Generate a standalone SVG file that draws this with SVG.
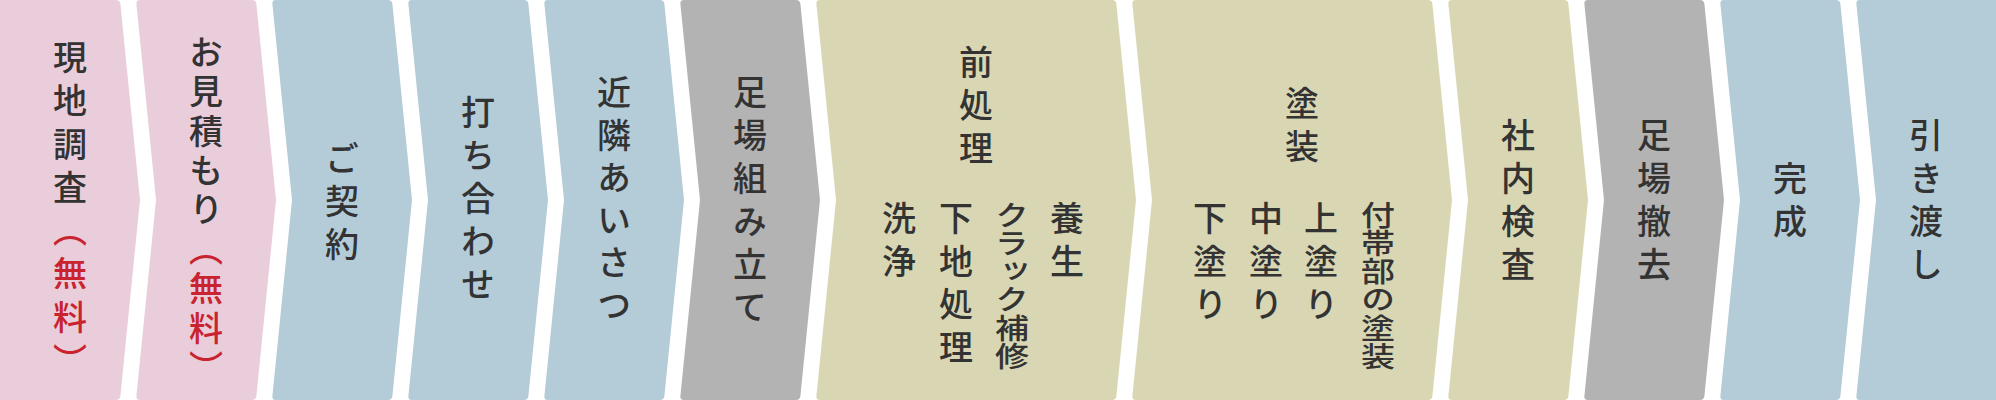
<svg xmlns="http://www.w3.org/2000/svg" width="1996" height="400" viewBox="0 0 1996 400">
<style>
.pink{fill:#eacddb}
.blue{fill:#b4ccd8}
.gray{fill:#b3b3b3}
.olive{fill:#d9d7b3}
.t{font-family:"Noto Sans CJK JP","Noto Sans CJK SC",sans-serif;font-size:34px;font-weight:500;fill:#333333;writing-mode:vertical-rl;letter-spacing:9px}
.r{fill:#c8232f}
.sq{letter-spacing:0px}
</style>
<rect width="1996" height="400" fill="#ffffff"/>
<g id="step1">
<path class="pink" d="M0,0 H116 Q120,0 120.4,4 L140,200 L120.4,396 Q120,400 116,400 H0 Z"/>
<text class="t" x="70" y="40" style="letter-spacing:9.3px">現地調査<tspan class="r">（無料）</tspan></text>
</g>
<g id="step2">
<path class="pink" d="M136.4,4 Q136,0 140,0 H252 Q256,0 256.4,4 L276,200 L256.4,396 Q256,400 252,400 H140 Q136,400 136.4,396 L156,200 Z"/>
<text class="t" x="206" y="35" style="letter-spacing:5.3px">お見積もり<tspan class="r">（無料）</tspan></text>
</g>
<g id="step3">
<path class="blue" d="M272.4,4 Q272,0 276,0 H388 Q392,0 392.4,4 L412,200 L392.4,396 Q392,400 388,400 H276 Q272,400 272.4,396 L292,200 Z"/>
<text class="t" x="342" y="141">ご契約</text>
</g>
<g id="step4">
<path class="blue" d="M408.4,4 Q408,0 412,0 H524 Q528,0 528.4,4 L548,200 L528.4,396 Q528,400 524,400 H412 Q408,400 408.4,396 L428,200 Z"/>
<text class="t" x="478" y="95">打ち合わせ</text>
</g>
<g id="step5">
<path class="blue" d="M544.4,4 Q544,0 548,0 H660 Q664,0 664.4,4 L684,200 L664.4,396 Q664,400 660,400 H548 Q544,400 544.4,396 L564,200 Z"/>
<text class="t" x="614" y="75" style="letter-spacing:8.6px">近隣あいさつ</text>
</g>
<g id="step6">
<path class="gray" d="M680.4,4 Q680,0 684,0 H796 Q800,0 800.4,4 L820,200 L800.4,396 Q800,400 796,400 H684 Q680,400 680.4,396 L700,200 Z"/>
<text class="t" x="750" y="75">足場組み立て</text>
</g>
<g id="step7">
<path class="olive" d="M816.4,4 Q816,0 820,0 H1112 Q1116,0 1116.4,4 L1136,200 L1116.4,396 Q1116,400 1112,400 H820 Q816,400 816.4,396 L836,200 Z"/>
<text class="t" x="976" y="45">前処理</text>
<text class="t" x="1067" y="201">養生</text>
<text class="t sq" x="0" y="0" transform="translate(1012,201) scale(1,0.83)">クラック補修</text>
<text class="t" x="956" y="201">下地処理</text>
<text class="t" x="899" y="201">洗浄</text>
</g>
<g id="step8">
<path class="olive" d="M1132.4,4 Q1132,0 1136,0 H1428 Q1432,0 1432.4,4 L1452,200 L1432.4,396 Q1432,400 1428,400 H1136 Q1132,400 1132.4,396 L1152,200 Z"/>
<text class="t" x="1302" y="86">塗装</text>
<text class="t sq" x="0" y="0" transform="translate(1378,201) scale(1,0.83)">付帯部の塗装</text>
<text class="t" x="1321" y="201">上塗り</text>
<text class="t" x="1266" y="201">中塗り</text>
<text class="t" x="1210" y="201">下塗り</text>
</g>
<g id="step9">
<path class="olive" d="M1448.4,4 Q1448,0 1452,0 H1564 Q1568,0 1568.4,4 L1588,200 L1568.4,396 Q1568,400 1564,400 H1452 Q1448,400 1448.4,396 L1468,200 Z"/>
<text class="t" x="1518" y="118">社内検査</text>
</g>
<g id="step10">
<path class="gray" d="M1584.4,4 Q1584,0 1588,0 H1700 Q1704,0 1704.4,4 L1724,200 L1704.4,396 Q1704,400 1700,400 H1588 Q1584,400 1584.4,396 L1604,200 Z"/>
<text class="t" x="1654" y="118">足場撤去</text>
</g>
<g id="step11">
<path class="blue" d="M1720.4,4 Q1720,0 1724,0 H1836 Q1840,0 1840.4,4 L1860,200 L1840.4,396 Q1840,400 1836,400 H1724 Q1720,400 1720.4,396 L1740,200 Z"/>
<text class="t" x="1790" y="161">完成</text>
</g>
<g id="step12">
<path class="blue" d="M1856.4,4 Q1856,0 1860,0 H1996 V400 H1860 Q1856,400 1856.4,396 L1876,200 Z"/>
<text class="t" x="1926" y="118">引き渡し</text>
</g>
</svg>
